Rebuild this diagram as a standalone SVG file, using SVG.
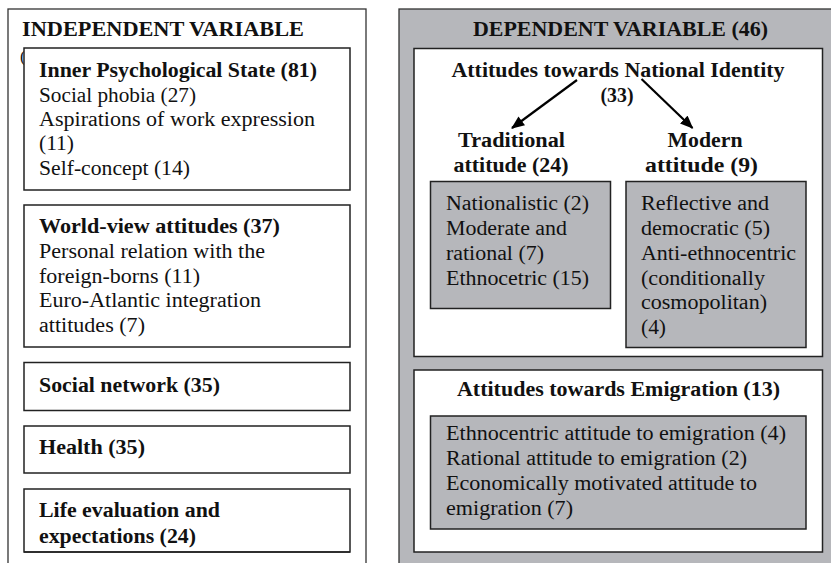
<svg xmlns="http://www.w3.org/2000/svg" width="831" height="563" viewBox="0 0 831 563">
  <style>
    text { font-family: "Liberation Serif", "Times New Roman", serif; font-size: 20.5px; fill: #111; }
    .b { font-weight: bold; }
    .c { text-anchor: middle; }
    .h { font-size: 20px; }
    .panel { stroke: #333; stroke-width: 1.3; }
    .box { fill: #fff; stroke: #222; stroke-width: 1.5; }
    .gbox { fill: #b6b7bb; stroke: #222; stroke-width: 1.5; }
    .arrow { stroke: #000; stroke-width: 2.2; fill: none; marker-end: url(#head); }
  </style>
  <defs>
    <marker id="head" viewBox="0 0 12 10" refX="11" refY="5" markerWidth="6.2" markerHeight="5" orient="auto" markerUnits="strokeWidth">
      <path d="M0,0 L12,5 L0,10 z" fill="#000"/>
    </marker>
  </defs>

  <rect width="831" height="563" fill="#fff"/>

  <!-- Left panel: independent variable -->
  <g id="independent">
    <rect class="panel" x="8" y="9" width="358" height="570" fill="#fff"/>
    <text class="b h" x="22" y="35.5" textLength="282" lengthAdjust="spacingAndGlyphs">INDEPENDENT VARIABLE</text>
    <text x="20" y="62" style="font-size:17px">(</text>
  </g>

  <g id="inner-psychological-state">
    <rect class="box" x="24" y="48" width="326" height="142"/>
    <text class="b" x="39" y="77" textLength="278" lengthAdjust="spacingAndGlyphs">Inner Psychological State (81)</text>
    <text x="39" y="101.5" textLength="157" lengthAdjust="spacingAndGlyphs">Social phobia (27)</text>
    <text x="39" y="126" textLength="276" lengthAdjust="spacingAndGlyphs">Aspirations of work expression</text>
    <text x="39" y="150" textLength="35" lengthAdjust="spacingAndGlyphs">(11)</text>
    <text x="39" y="174.5" textLength="151" lengthAdjust="spacingAndGlyphs">Self-concept (14)</text>
  </g>

  <g id="world-view-attitudes">
    <rect class="box" x="24" y="205" width="326" height="142"/>
    <text class="b" x="39" y="233" textLength="241" lengthAdjust="spacingAndGlyphs">World-view attitudes (37)</text>
    <text x="39" y="258" textLength="226" lengthAdjust="spacingAndGlyphs">Personal relation with the</text>
    <text x="39" y="282.5" textLength="161" lengthAdjust="spacingAndGlyphs">foreign-borns (11)</text>
    <text x="39" y="306.5" textLength="222" lengthAdjust="spacingAndGlyphs">Euro-Atlantic integration</text>
    <text x="39" y="331.5" textLength="106" lengthAdjust="spacingAndGlyphs">attitudes (7)</text>
  </g>

  <g id="social-network">
    <rect class="box" x="24" y="362.5" width="326" height="48"/>
    <text class="b" x="39" y="391.5" textLength="181" lengthAdjust="spacingAndGlyphs">Social network (35)</text>
  </g>

  <g id="health">
    <rect class="box" x="24" y="426" width="326" height="47"/>
    <text class="b" x="39" y="454" textLength="106" lengthAdjust="spacingAndGlyphs">Health (35)</text>
  </g>

  <g id="life-evaluation">
    <rect class="box" x="24" y="489" width="326" height="63"/>
    <text class="b" x="39" y="516.5" textLength="181" lengthAdjust="spacingAndGlyphs">Life evaluation and</text>
    <text class="b" x="39" y="543" textLength="157" lengthAdjust="spacingAndGlyphs">expectations (24)</text>
    <line x1="24" y1="552" x2="350" y2="552" stroke="#222" stroke-width="1.5"/>
  </g>

  <!-- Right panel: dependent variable -->
  <g id="dependent">
    <rect class="panel" x="399" y="9" width="450" height="570" fill="#b6b7bb"/>
    <text class="b c h" x="620.5" y="35.5" textLength="295" lengthAdjust="spacingAndGlyphs">DEPENDENT VARIABLE (46)</text>
  </g>

  <g id="national-identity">
    <rect class="box" x="414" y="48.5" width="408.5" height="308"/>
    <text class="b c" x="618" y="76.5" textLength="333" lengthAdjust="spacingAndGlyphs">Attitudes towards National Identity</text>
    <text class="b c" x="617" y="101.5" textLength="33" lengthAdjust="spacingAndGlyphs">(33)</text>
  </g>

  <g id="traditional-attitude">
    <text class="b c" x="511.5" y="146.5" textLength="107" lengthAdjust="spacingAndGlyphs">Traditional</text>
    <text class="b c" x="511" y="171.5" textLength="115" lengthAdjust="spacingAndGlyphs">attitude (24)</text>
    <rect class="gbox" x="430.5" y="181.5" width="180" height="127"/>
    <text x="446" y="209.5" textLength="143" lengthAdjust="spacingAndGlyphs">Nationalistic (2)</text>
    <text x="446" y="234.5" textLength="121" lengthAdjust="spacingAndGlyphs">Moderate and</text>
    <text x="446" y="259.5" textLength="98" lengthAdjust="spacingAndGlyphs">rational (7)</text>
    <text x="446" y="285" textLength="143" lengthAdjust="spacingAndGlyphs">Ethnocetric (15)</text>
  </g>

  <g id="modern-attitude">
    <text class="b c" x="705" y="146.5" textLength="75" lengthAdjust="spacingAndGlyphs">Modern</text>
    <text class="b c" x="701.5" y="171.5" textLength="113" lengthAdjust="spacingAndGlyphs">attitude (9)</text>
    <rect class="gbox" x="626" y="181.5" width="180" height="166"/>
    <text x="641" y="209.5" textLength="128" lengthAdjust="spacingAndGlyphs">Reflective and</text>
    <text x="641" y="234.5" textLength="129" lengthAdjust="spacingAndGlyphs">democratic (5)</text>
    <text x="641" y="259.5" textLength="155" lengthAdjust="spacingAndGlyphs">Anti-ethnocentric</text>
    <text x="641" y="285" textLength="124" lengthAdjust="spacingAndGlyphs">(conditionally</text>
    <text x="641" y="309" textLength="126" lengthAdjust="spacingAndGlyphs">cosmopolitan)</text>
    <text x="641" y="334" textLength="25" lengthAdjust="spacingAndGlyphs">(4)</text>
  </g>

  <g id="emigration">
    <rect class="box" x="414" y="370" width="408.5" height="182"/>
    <text class="b c" x="618.5" y="396" textLength="323" lengthAdjust="spacingAndGlyphs">Attitudes towards Emigration (13)</text>
    <rect class="gbox" x="430.5" y="416" width="375.5" height="113"/>
    <text x="446" y="440" textLength="340" lengthAdjust="spacingAndGlyphs">Ethnocentric attitude to emigration (4)</text>
    <text x="446" y="465" textLength="301" lengthAdjust="spacingAndGlyphs">Rational attitude to emigration (2)</text>
    <text x="446" y="490" textLength="311" lengthAdjust="spacingAndGlyphs">Economically motivated attitude to</text>
    <text x="446" y="515" textLength="127" lengthAdjust="spacingAndGlyphs">emigration (7)</text>
  </g>

  <!-- Connectors -->
  <g id="connectors">
    <line class="arrow" x1="577" y1="80" x2="512" y2="128"/>
    <line class="arrow" x1="641.5" y1="79" x2="692.5" y2="128"/>
  </g>
</svg>
